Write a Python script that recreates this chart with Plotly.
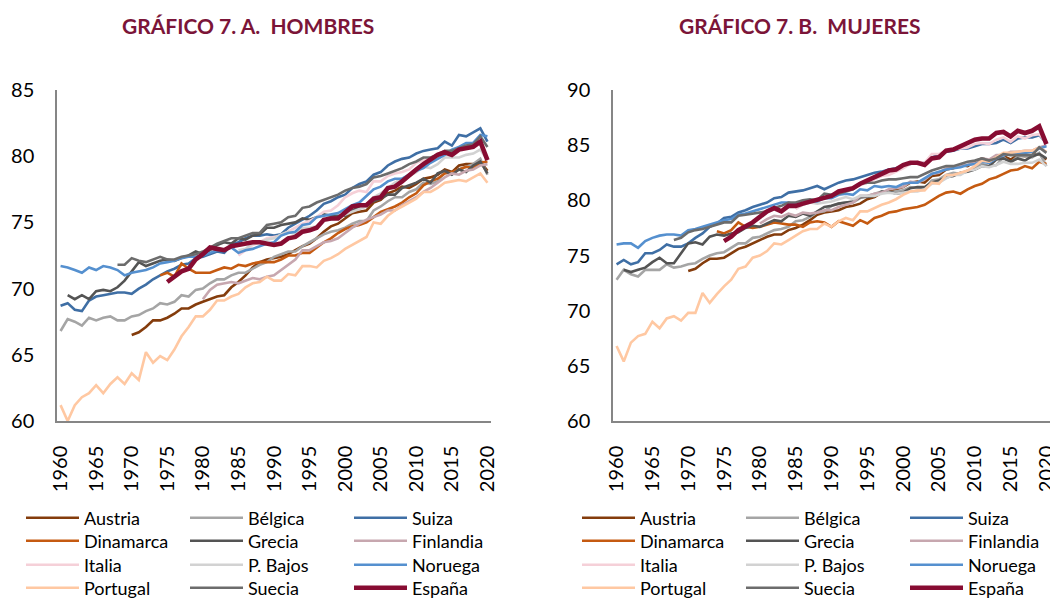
import plotly.graph_objects as go

# ---------------- DATA ----------------
YEARS = list(range(1960, 2021))
SERIES = ["Austria", "Bélgica", "Suiza", "Dinamarca", "Grecia", "Finlandia",
          "Italia", "P. Bajos", "Noruega", "Portugal", "Suecia", "España"]

# Hombres (life expectancy at birth, men) -- first year, values
H_START = {"Austria": 1970, "Bélgica": 1960, "Suiza": 1960, "Dinamarca": 1974, "Grecia": 1961,
           "Finlandia": 1980, "Italia": 1985, "P. Bajos": 1985, "Noruega": 1960, "Portugal": 1960,
           "Suecia": 1968, "España": 1975}

H_AUSTRIA = [66.5, 66.7, 67.1, 67.6, 67.6, 67.8, 68.1, 68.5, 68.5, 68.8, 69.0, 69.2, 69.4, 69.5, 70.1,
             70.5, 71.0, 71.6, 72.0, 72.2, 72.3, 72.4, 72.6, 72.9, 73.2, 73.4, 73.8, 74.3, 74.7, 74.9,
             75.3, 75.7, 75.8, 75.9, 76.5, 76.7, 77.2, 77.4, 77.7, 77.6, 77.9, 78.3, 78.4, 78.6, 79.0,
             78.8, 79.3, 79.4, 79.4, 79.6, 78.9]
H_BELGICA = [66.8, 67.7, 67.5, 67.2, 67.8, 67.6, 67.8, 67.9, 67.6, 67.6, 67.9, 68.0, 68.3, 68.5, 68.9,
             68.8, 69.0, 69.5, 69.4, 69.9, 70.0, 70.4, 70.7, 70.7, 71.0, 71.2, 71.2, 71.5, 71.8, 72.0,
             72.4, 72.6, 72.8, 72.8, 73.2, 73.5, 73.8, 74.1, 74.3, 74.4, 74.6, 74.9, 75.1, 75.1, 75.9,
             76.2, 76.6, 76.9, 76.9, 77.3, 77.5, 78.0, 77.9, 78.1, 78.8, 78.7, 79.0, 79.2, 79.4, 79.8,
             78.6]
H_SUIZA = [68.7, 68.9, 68.4, 68.3, 69.1, 69.4, 69.5, 69.6, 69.7, 69.7, 69.6, 70.0, 70.3, 70.7, 71.0,
           71.3, 71.5, 71.8, 71.9, 72.3, 72.4, 72.6, 72.8, 72.7, 73.3, 73.5, 73.8, 74.0, 74.0, 74.1,
           74.0, 74.1, 74.6, 74.9, 75.2, 75.5, 75.9, 76.4, 76.6, 76.9, 77.1, 77.6, 77.9, 78.1, 78.6,
           78.8, 79.3, 79.6, 79.8, 79.9, 80.2, 80.4, 80.5, 80.6, 81.1, 80.8, 81.6, 81.5, 81.8, 82.1,
           81.1]
H_DINAMARCA = [71.0, 71.2, 70.9, 71.9, 71.5, 71.2, 71.2, 71.2, 71.4, 71.6, 71.5, 71.8, 71.7, 71.9, 72.0,
               72.0, 72.0, 72.2, 72.5, 72.5, 72.7, 72.7, 73.1, 73.5, 73.8, 74.2, 74.5, 74.7, 74.8, 75.0,
               75.4, 75.8, 76.0, 76.2, 76.5, 76.9, 77.2, 77.8, 78.1, 78.3, 78.7, 78.8, 79.0, 79.2, 79.1,
               79.5, 79.6]
H_GRECIA = [69.5, 69.2, 69.5, 69.2, 69.8, 69.9, 69.8, 70.1, 70.6, 71.3, 72.0, 71.7, 71.9, 72.1, 72.2,
            72.1, 72.3, 72.5, 72.8, 72.6, 72.9, 73.3, 73.5, 73.4, 73.8, 73.7, 74.0, 74.1, 74.6, 74.6,
            74.8, 74.9, 75.0, 75.3, 75.2, 75.4, 75.6, 75.5, 75.5, 75.5, 75.9, 76.2, 76.4, 76.6, 76.8,
            77.1, 77.1, 77.6, 77.8, 78.0, 78.3, 78.0, 78.7, 78.9, 78.6, 79.0, 78.8, 79.3, 79.6, 78.7]
H_FINLANDIA = [69.2, 69.9, 70.3, 70.4, 70.5, 70.4, 70.6, 70.8, 70.7, 70.9, 71.0, 71.4, 71.8, 72.2, 72.9,
               72.9, 73.2, 73.5, 73.6, 73.8, 74.2, 74.6, 74.9, 75.2, 75.4, 75.6, 75.9, 75.9, 76.3, 76.6,
               76.9, 77.3, 77.6, 78.0, 78.4, 78.7, 78.6, 78.9, 79.0, 79.3, 79.4]
H_ITALIA = [72.5, 72.9, 73.3, 73.5, 73.8, 73.9, 74.0, 74.3, 74.6, 74.9, 75.1, 75.4, 75.8, 75.9, 76.3,
            76.9, 77.2, 77.4, 77.3, 78.1, 78.1, 78.5, 78.7, 78.8, 79.0, 79.5, 79.7, 79.8, 80.2, 80.4,
            80.2, 80.7, 80.7, 81.0, 81.2, 79.8]
H_PBAJOS = [72.9, 73.0, 73.4, 73.5, 73.7, 73.8, 74.1, 74.3, 74.1, 74.6, 74.6, 74.7, 75.2, 75.2, 75.3,
            75.6, 75.8, 76.0, 76.2, 76.9, 77.2, 77.6, 78.0, 78.3, 78.5, 78.8, 79.2, 79.1, 79.4, 79.9,
            79.9, 79.9, 80.1, 80.2, 80.5, 79.7]
H_NORUEGA = [71.7, 71.6, 71.4, 71.2, 71.6, 71.4, 71.7, 71.6, 71.4, 71.0, 71.2, 71.3, 71.4, 71.6, 71.9,
             72.0, 72.1, 72.3, 72.4, 72.4, 72.5, 72.7, 72.9, 72.9, 73.1, 72.7, 72.9, 73.0, 73.2, 73.4,
             73.5, 74.0, 74.2, 74.3, 74.8, 74.9, 75.4, 75.5, 75.6, 75.7, 76.0, 76.3, 76.5, 77.0, 77.5,
             77.7, 78.1, 78.3, 78.3, 78.6, 78.9, 79.1, 79.5, 79.8, 80.1, 80.5, 80.7, 81.0, 81.0, 81.6,
             81.5]
H_PORTUGAL = [61.2, 60.0, 61.2, 61.8, 62.1, 62.7, 62.1, 62.8, 63.3, 62.8, 63.6, 63.1, 65.2, 64.4, 64.9,
              64.6, 65.4, 66.4, 67.1, 67.9, 67.9, 68.4, 69.1, 69.1, 69.4, 69.6, 70.1, 70.4, 70.5, 70.9,
              70.6, 70.6, 71.1, 71.0, 71.7, 71.7, 71.6, 72.1, 72.3, 72.6, 73.0, 73.3, 73.6, 73.9, 75.0,
              74.9, 75.5, 75.9, 76.2, 76.5, 76.8, 77.3, 77.3, 77.6, 78.0, 78.1, 78.2, 78.1, 78.4, 78.7,
              78.0]
H_SUECIA = [71.8, 71.8, 72.3, 72.1, 72.0, 72.2, 72.4, 72.2, 72.2, 72.4, 72.5, 72.6, 72.8, 73.1, 73.4,
            73.6, 73.8, 73.8, 74.0, 74.2, 74.2, 74.8, 74.9, 75.0, 75.4, 75.5, 76.1, 76.2, 76.5, 76.7,
            76.9, 77.1, 77.4, 77.6, 77.7, 77.9, 78.4, 78.5, 78.7, 78.9, 79.1, 79.4, 79.6, 79.9, 79.9,
            80.1, 80.4, 80.4, 80.6, 80.8, 80.9, 81.5, 80.7]
H_ESPANA = [70.5, 70.9, 71.3, 71.5, 72.2, 72.6, 73.1, 73.0, 72.9, 73.2, 73.3, 73.4, 73.5, 73.5, 73.4,
            73.3, 73.4, 73.8, 73.9, 74.3, 74.4, 74.6, 75.2, 75.3, 75.3, 75.8, 76.2, 76.3, 76.3, 76.8,
            76.9, 77.6, 77.7, 78.1, 78.6, 79.0, 79.4, 79.7, 80.1, 80.3, 80.1, 80.5, 80.6, 80.7, 81.1,
            79.7]

# Mujeres (life expectancy at birth, women)
M_START = {"Austria": 1970, "Bélgica": 1960, "Suiza": 1960, "Dinamarca": 1974, "Grecia": 1961,
           "Finlandia": 1980, "Italia": 1985, "P. Bajos": 1985, "Noruega": 1960, "Portugal": 1960,
           "Suecia": 1968, "España": 1975}

M_AUSTRIA = [73.6, 73.8, 74.3, 74.7, 74.7, 74.8, 75.2, 75.6, 75.8, 76.1, 76.4, 76.7, 76.9, 76.9, 77.3,
             77.5, 77.8, 78.2, 78.7, 78.9, 79.0, 79.1, 79.4, 79.5, 79.7, 80.1, 80.3, 80.7, 80.9, 81.0,
             81.2, 81.6, 81.7, 81.6, 82.2, 82.3, 82.8, 82.9, 83.2, 83.1, 83.5, 83.8, 83.6, 83.8, 84.0,
             83.7, 84.1, 84.0, 84.1, 84.2, 83.7]
M_BELGICA = [72.8, 73.7, 73.3, 73.1, 73.7, 73.7, 73.7, 74.2, 73.9, 74.0, 74.2, 74.3, 74.7, 75.0, 75.2,
             75.3, 75.7, 76.1, 76.1, 76.6, 76.7, 77.0, 77.3, 77.4, 77.6, 78.1, 78.2, 78.5, 78.9, 79.0,
             79.5, 79.7, 79.8, 79.8, 80.2, 80.4, 80.6, 80.8, 80.7, 80.8, 80.9, 81.2, 81.1, 81.1, 81.8,
             81.9, 82.3, 82.5, 82.4, 82.7, 82.9, 83.3, 83.1, 83.2, 83.9, 83.4, 84.0, 84.0, 83.9, 84.3,
             83.1]
M_SUIZA = [74.2, 74.6, 74.2, 74.4, 75.2, 75.2, 75.5, 76.0, 75.8, 75.8, 76.1, 76.6, 77.0, 77.6, 77.9,
           78.4, 78.5, 78.9, 79.1, 79.4, 79.6, 79.8, 80.2, 80.3, 80.7, 80.8, 80.9, 81.1, 81.3, 81.0,
           81.3, 81.6, 81.8, 81.9, 82.1, 82.3, 82.5, 82.6, 82.8, 82.9, 83.1, 83.3, 83.4, 83.4, 83.9,
           84.1, 84.4, 84.5, 84.7, 84.7, 84.9, 85.1, 85.1, 85.2, 85.5, 85.2, 85.6, 85.7, 85.7, 85.9,
           85.2]
M_DINAMARCA = [77.2, 77.0, 77.3, 78.0, 77.6, 77.5, 77.6, 77.8, 78.0, 77.9, 77.8, 77.8, 77.6, 78.0, 78.1,
               78.0, 77.6, 78.1, 77.9, 77.7, 78.2, 77.9, 78.4, 78.6, 78.9, 79.0, 79.2, 79.3, 79.4, 79.6,
               80.0, 80.4, 80.7, 80.8, 80.6, 81.0, 81.3, 81.5, 81.9, 82.1, 82.4, 82.7, 82.8, 83.1, 82.9,
               83.5, 83.3]
M_GRECIA = [73.7, 73.5, 73.7, 73.9, 74.4, 74.8, 74.3, 74.3, 75.2, 76.1, 76.2, 76.0, 76.7, 76.9, 76.8,
            77.0, 77.1, 77.5, 77.7, 77.6, 77.9, 78.2, 78.1, 78.6, 78.5, 78.8, 78.6, 79.0, 79.4, 79.5,
            79.7, 79.8, 79.9, 80.3, 80.3, 80.4, 80.8, 80.8, 80.6, 80.7, 81.1, 81.2, 81.2, 81.6, 81.8,
            82.1, 82.2, 82.5, 82.6, 82.8, 83.1, 83.1, 83.7, 83.8, 83.5, 83.8, 83.6, 84.0, 84.2, 83.8]
M_FINLANDIA = [77.9, 78.3, 78.6, 78.5, 78.8, 78.6, 78.9, 78.8, 78.9, 79.1, 79.1, 79.4, 79.6, 79.8, 80.4,
               80.4, 80.6, 80.7, 81.0, 81.1, 81.2, 81.7, 81.6, 81.9, 82.4, 82.5, 82.9, 83.0, 83.2, 83.2,
               83.5, 83.8, 83.7, 84.1, 84.1, 84.4, 84.4, 84.5, 84.5, 84.8, 85.0]
M_ITALIA = [79.2, 79.6, 79.9, 80.1, 80.3, 80.5, 80.6, 80.9, 81.1, 81.4, 81.6, 81.9, 82.2, 82.3, 82.6,
            82.9, 83.3, 83.5, 83.4, 84.2, 84.2, 84.5, 84.6, 84.7, 84.8, 85.1, 85.2, 85.1, 85.5, 85.7,
            85.3, 85.8, 85.6, 85.9, 86.0, 85.2]
M_PBAJOS = [79.4, 79.6, 79.8, 79.7, 79.8, 79.9, 80.1, 80.3, 80.1, 80.4, 80.4, 80.4, 80.6, 80.7, 80.6,
            80.7, 80.8, 80.8, 81.0, 81.5, 81.6, 82.0, 82.3, 82.3, 82.7, 82.8, 83.1, 83.0, 83.2, 83.5,
            83.3, 83.3, 83.4, 83.4, 83.7, 83.1]
M_NORUEGA = [76.0, 76.1, 76.1, 75.7, 76.3, 76.6, 76.8, 76.9, 76.9, 76.8, 77.3, 77.4, 77.6, 77.8, 78.0,
             78.2, 78.3, 78.7, 78.8, 79.0, 79.2, 79.4, 79.6, 79.8, 79.8, 79.6, 79.8, 79.9, 79.9, 80.2,
             80.2, 80.5, 80.6, 80.5, 81.0, 80.9, 81.3, 81.2, 81.3, 81.2, 81.5, 81.6, 81.6, 82.0, 82.4,
             82.6, 82.8, 82.9, 83.0, 83.2, 83.3, 83.5, 83.4, 83.8, 84.1, 84.2, 84.2, 84.3, 84.4, 84.7,
             84.9]
M_PORTUGAL = [66.8, 65.4, 67.1, 67.7, 67.9, 69.0, 68.4, 69.3, 69.5, 69.1, 69.8, 69.8, 71.6, 70.7, 71.5,
              72.2, 72.8, 73.8, 74.0, 74.8, 75.0, 75.4, 76.1, 76.0, 76.4, 76.8, 77.2, 77.4, 77.4, 77.9,
              77.6, 78.1, 78.4, 78.2, 79.0, 79.0, 79.3, 79.6, 79.8, 80.1, 80.5, 80.8, 80.9, 80.9, 81.6,
              81.5, 82.3, 82.3, 82.5, 82.7, 83.1, 83.6, 83.5, 83.9, 84.3, 84.3, 84.4, 84.5, 84.5, 84.8,
              84.4]
M_SUECIA = [76.4, 76.6, 77.1, 77.3, 77.4, 77.6, 77.8, 78.0, 78.0, 78.6, 78.7, 78.8, 78.9, 79.0, 79.3,
            79.5, 79.8, 79.8, 80.0, 80.1, 80.0, 80.6, 80.5, 80.6, 80.8, 81.0, 81.5, 81.6, 81.6, 81.8,
            81.9, 81.9, 82.0, 82.1, 82.1, 82.4, 82.7, 82.9, 83.1, 83.1, 83.3, 83.5, 83.6, 83.8, 83.6,
            83.8, 84.2, 84.1, 84.1, 84.1, 84.1, 84.8, 84.3]
M_ESPANA = [76.3, 76.7, 77.3, 77.6, 78.0, 78.5, 79.0, 79.3, 79.0, 79.5, 79.5, 79.7, 79.9, 80.1, 80.3,
            80.4, 80.8, 81.0, 81.1, 81.5, 81.8, 82.1, 82.5, 82.7, 82.8, 83.2, 83.4, 83.4, 83.2, 83.8,
            83.9, 84.5, 84.6, 84.9, 85.2, 85.5, 85.6, 85.6, 86.1, 86.2, 85.8, 86.3, 86.1, 86.3, 86.7,
            85.1]

H_VALUES = {"Austria": H_AUSTRIA, "Bélgica": H_BELGICA, "Suiza": H_SUIZA, "Dinamarca": H_DINAMARCA,
            "Grecia": H_GRECIA, "Finlandia": H_FINLANDIA, "Italia": H_ITALIA, "P. Bajos": H_PBAJOS,
            "Noruega": H_NORUEGA, "Portugal": H_PORTUGAL, "Suecia": H_SUECIA, "España": H_ESPANA}
M_VALUES = {"Austria": M_AUSTRIA, "Bélgica": M_BELGICA, "Suiza": M_SUIZA, "Dinamarca": M_DINAMARCA,
            "Grecia": M_GRECIA, "Finlandia": M_FINLANDIA, "Italia": M_ITALIA, "P. Bajos": M_PBAJOS,
            "Noruega": M_NORUEGA, "Portugal": M_PORTUGAL, "Suecia": M_SUECIA, "España": M_ESPANA}

X_TICKS = list(range(1960, 2021, 5))
TITLE_H = "GRÁFICO 7. A.\u00a0 HOMBRES"
TITLE_M = "GRÁFICO 7. B.\u00a0 MUJERES"

# ---------------- STYLE ----------------
COLORS = {"Austria": "#843C0C", "Bélgica": "#A5A5A5", "Suiza": "#3F6FA5", "Dinamarca": "#C55A11",
          "Grecia": "#545454", "Finlandia": "#C7A7AF", "Italia": "#F5D0D8", "P. Bajos": "#D2D2D2",
          "Noruega": "#5590CF", "Portugal": "#FFC8A2", "Suecia": "#6C6C6C", "España": "#870C32"}
PAGE_OFFSET = 8                      # the page body margin shifts the figure by 8 px
W, H = 1058 - PAGE_OFFSET, 601 - PAGE_OFFSET
FONT = "Lato, 'Open Sans', sans-serif"
AXIS_COLOR = "#868686"
LEGEND_ROWS_PX = [518, 541, 565, 588]     # row centres (page px), 3 entries per row
LEGEND_X_PX = [21, 577]                   # legend box left edge (page px)


def legend_key(panel, row):
    idx = panel * 4 + row
    return "legend" if idx == 0 else f"legend{idx + 1}"


# page pixel -> figure paper fraction
px_x = lambda p: (p - PAGE_OFFSET) / W
px_y = lambda p: 1 - (p - PAGE_OFFSET) / H

fig = go.Figure()
for panel, (starts, values, xa, ya) in enumerate([(H_START, H_VALUES, "x", "y"),
                                                   (M_START, M_VALUES, "x2", "y2")]):
    for i, name in enumerate(SERIES):
        vals = values[name]
        yrs = list(range(starts[name], starts[name] + len(vals)))
        fig.add_trace(go.Scatter(
            x=yrs, y=vals, mode="lines", name=name, xaxis=xa, yaxis=ya,
            line=dict(color=COLORS[name], width=4.6 if name == "España" else 2.6),
            legend=legend_key(panel, i // 3), showlegend=True))

common_x = dict(range=[1959.5, 2020.5], tickmode="array", tickvals=X_TICKS,
                ticktext=[str(v) for v in X_TICKS], tickangle=-90, showgrid=False, zeroline=False,
                showline=True, linecolor=AXIS_COLOR, linewidth=1.5, ticks="", automargin=False,
                ticklabelstandoff=15, tickfont=dict(family=FONT, size=20, color="black"))
common_y = dict(dtick=5, showgrid=False, zeroline=False, showline=True, linecolor=AXIS_COLOR,
                linewidth=1.5, ticks="", ticklabelstandoff=17, automargin=False,
                tickfont=dict(family=FONT, size=20, color="black"))

layout = dict(
    width=W, height=H, autosize=False, margin=dict(l=0, r=0, t=0, b=0, autoexpand=False),
    paper_bgcolor="white", plot_bgcolor="white", showlegend=True,
    xaxis=dict(domain=[px_x(57), px_x(491)], anchor="y", **common_x),
    yaxis=dict(domain=[px_y(421), px_y(90)], anchor="x", range=[60, 85], **common_y),
    xaxis2=dict(domain=[px_x(613), px_x(1050)], anchor="y2", **common_x),
    yaxis2=dict(domain=[px_y(421), px_y(90)], anchor="x2", range=[60, 90], **common_y),
    annotations=[
        dict(text=f"<b>{TITLE_H}</b>", x=px_x(248), y=px_y(25), xref="paper", yref="paper",
             showarrow=False, xanchor="center", yanchor="middle",
             font=dict(family=FONT, size=21, color="#7B1538")),
        dict(text=f"<b>{TITLE_M}</b>", x=px_x(800), y=px_y(25), xref="paper", yref="paper",
             showarrow=False, xanchor="center", yanchor="middle",
             font=dict(family=FONT, size=21, color="#7B1538")),
    ],
)
for panel in range(2):
    for row, ry in enumerate(LEGEND_ROWS_PX):
        layout[legend_key(panel, row)] = dict(
            x=px_x(LEGEND_X_PX[panel]), y=px_y(ry), xref="container", yref="container",
            xanchor="left", yanchor="middle", orientation="h",
            bgcolor="rgba(0,0,0,0)", borderwidth=0, itemwidth=53,
            entrywidth=96, entrywidthmode="pixels",
            font=dict(family=FONT, size=18, color="black"), traceorder="normal")
fig.update_layout(**layout)
fig.write_html("out.html")
